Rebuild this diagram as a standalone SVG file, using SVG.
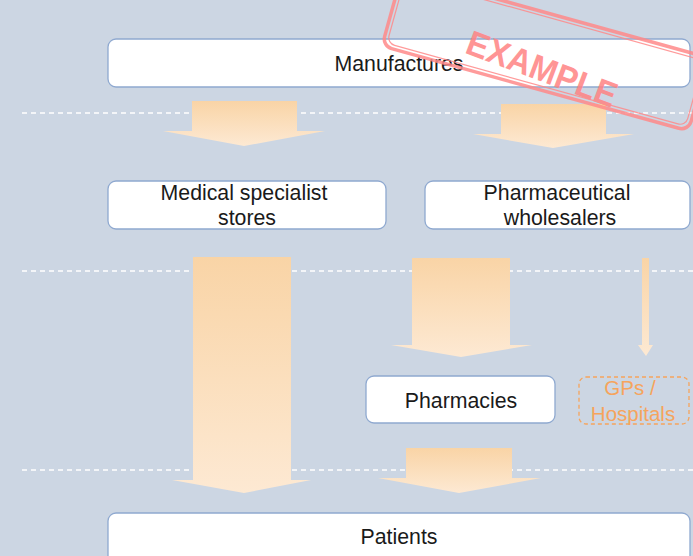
<svg xmlns="http://www.w3.org/2000/svg" width="693" height="556" viewBox="0 0 693 556">
<style>
.box{fill:#fff;stroke:#8fa9d0;stroke-width:1.3}
.gp{fill:none;stroke:#f6a45c;stroke-width:1.3;stroke-dasharray:4 3}
.t{font-family:"Liberation Sans",Arial,sans-serif;font-size:21.3px;fill:#1a1a1a;text-anchor:middle}
.to{font-family:"Liberation Sans",Arial,sans-serif;font-size:20.5px;fill:#f6a45c;text-anchor:middle}
.dash{stroke:#fff;stroke-width:1.3;stroke-dasharray:5 4}
.arr{fill:url(#g)}
</style>
<defs>
<linearGradient id="g" x1="0" y1="0" x2="0" y2="1">
<stop offset="0" stop-color="#f9d4a6"/>
<stop offset="1" stop-color="#fde9d3"/>
</linearGradient>
</defs>
<rect width="693" height="556" fill="#ccd6e3"/>
<g id="separators">
<line class="dash" x1="22" y1="113" x2="693" y2="113"/>
<line class="dash" x1="22" y1="271" x2="693" y2="271"/>
<line class="dash" x1="22" y1="470" x2="693" y2="470"/>
</g>
<g id="connectors">
<polygon class="arr" points="192,101 297,101 297,131 325,131 244,146 163,131 192,131"/>
<polygon class="arr" points="501,104 606,104 606,134 634,134 553,148 473,134 501,134"/>
<polygon class="arr" points="193,257 291,257 291,480 311,480 244,493 172,480 193,480"/>
<polygon class="arr" points="412,258 510,258 510,345 532,345 461,357 391,345 412,345"/>
<polygon class="arr" points="642,258 649,258 649,345 653,345 646,356 638,345 642,345"/>
<polygon class="arr" points="406,448 512,448 512,478 541,478 459,493 378,478 406,478"/>
</g>
<g id="manufactures">
<rect class="box" x="108" y="39" width="582" height="48" rx="8"/>
<text class="t" x="399" y="71">Manufactures</text>
</g>
<g id="medical-specialist-stores">
<rect class="box" x="108" y="181" width="278" height="48" rx="8"/>
<text class="t" x="244" y="200">Medical specialist</text>
<text class="t" x="247" y="225">stores</text>
</g>
<g id="pharmaceutical-wholesalers">
<rect class="box" x="425" y="181" width="265" height="48" rx="8"/>
<text class="t" x="557" y="200">Pharmaceutical</text>
<text class="t" x="560" y="225">wholesalers</text>
</g>
<g id="pharmacies">
<rect class="box" x="366" y="376" width="189" height="47" rx="8"/>
<text class="t" x="461" y="408">Pharmacies</text>
</g>
<g id="gps-hospitals">
<rect class="gp" x="579" y="377" width="110" height="47" rx="7"/>
<text class="to" x="630" y="395">GPs /</text>
<text class="to" x="633" y="421">Hospitals</text>
</g>
<g id="patients">
<rect class="box" x="108" y="513" width="582" height="60" rx="8"/>
<text class="t" x="399" y="544">Patients</text>
</g>
<g id="stamp" opacity="0.85">
<g transform="translate(382,46) rotate(15.5)">
<rect x="0" y="-76" width="318" height="76" rx="10" fill="none" stroke="#ff8a8a" stroke-width="3.5"/>
<rect x="4" y="-72" width="310" height="68" rx="8" fill="none" stroke="#ff8a8a" stroke-width="1.2"/>
</g>
<text x="542" y="81" transform="rotate(20.5 542 69)" font-family="'Liberation Sans',Arial,sans-serif" font-weight="bold" font-size="35" fill="#ff8383" text-anchor="middle" textLength="158" lengthAdjust="spacingAndGlyphs">EXAMPLE</text>
</g>
</svg>
